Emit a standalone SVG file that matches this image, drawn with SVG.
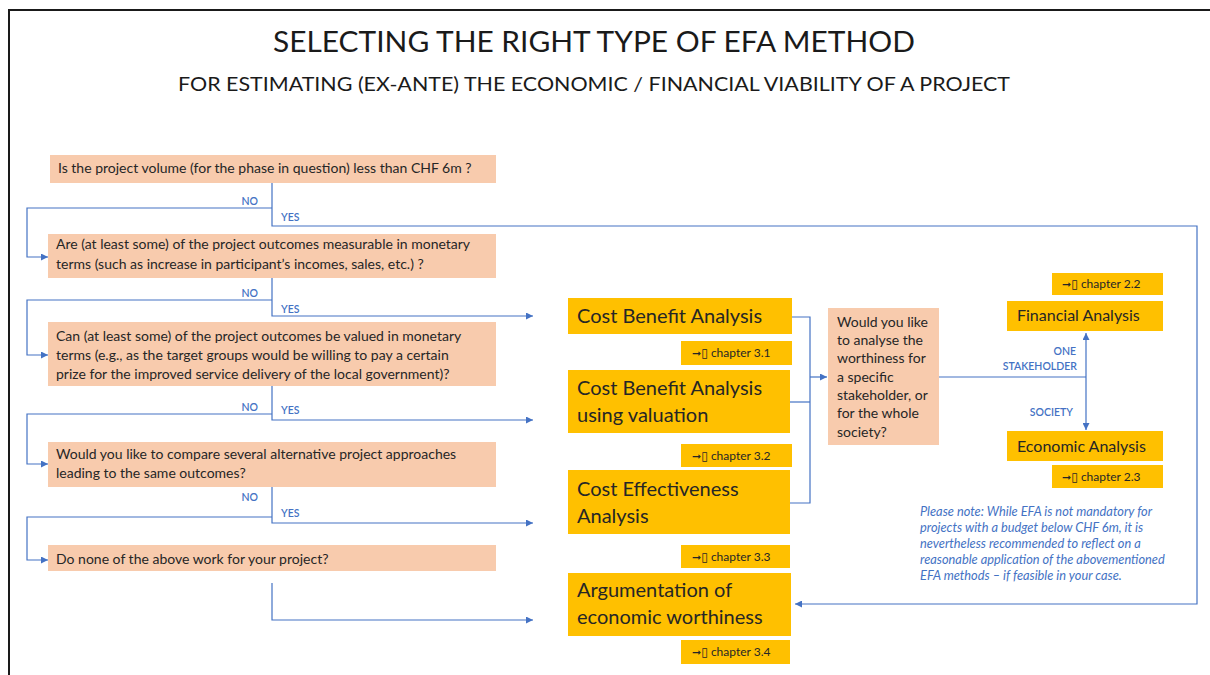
<svg xmlns="http://www.w3.org/2000/svg" width="1210" height="675" viewBox="0 0 1210 675">
  <style>
    .title { font-family: Lato, "Liberation Sans", sans-serif; fill: #1a1a1a; text-anchor: middle; }
    .q { fill: #F8CBAD; }
    .qt { font-family: Lato, "Liberation Sans", sans-serif; font-size: 14px; fill: #262626; }
    .m { fill: #FFC000; }
    .mt { font-family: Lato, "Liberation Sans", sans-serif; font-size: 20px; fill: #262626; }
    .st { font-family: Lato, "Liberation Sans", sans-serif; font-size: 16px; fill: #262626; }
    .ct { font-family: Lato, "DejaVu Sans", sans-serif; font-size: 12px; fill: #262626; }
    .ar { font-family: "DejaVu Sans", sans-serif; font-weight: bold; font-size: 11px; }
    .lbl { font-family: Lato, "Liberation Sans", sans-serif; font-size: 10.5px; fill: #4472C4; font-weight: 600; }
    .ln { fill: none; stroke: #4472C4; stroke-width: 1.2; }
    .note { font-family: Lato, "Liberation Sans", sans-serif; font-size: 12.8px; fill: #4472C4; font-style: italic; }
  </style>
  <defs>
    <marker id="arr" viewBox="0 0 8 8" refX="8" refY="4" markerWidth="7" markerHeight="7" markerUnits="userSpaceOnUse" orient="auto">
      <path d="M0,0 L8,4 L0,8 z" fill="#4472C4"/>
    </marker>
  </defs>

  <rect width="1210" height="675" fill="#ffffff"/>
  <!-- frame -->
  <path d="M9,675 V10 H1210" fill="none" stroke="#1a1a1a" stroke-width="2"/>

  <!-- headings -->
  <text class="title" x="594" y="52" font-size="29" textLength="642" lengthAdjust="spacingAndGlyphs">SELECTING THE RIGHT TYPE OF EFA METHOD</text>
  <text class="title" x="594" y="91" font-size="20" textLength="832" lengthAdjust="spacingAndGlyphs">FOR ESTIMATING (EX-ANTE) THE ECONOMIC / FINANCIAL VIABILITY OF A PROJECT</text>

  <!-- connectors -->
  <g id="connectors">
    <!-- Q1 -->
    <path class="ln" d="M272,183 V226 H1197 V604 H795" marker-end="url(#arr)"/>
    <path class="ln" d="M272,208 H27 V257 H48" marker-end="url(#arr)"/>
    <!-- Q2 -->
    <path class="ln" d="M272,278 V316 H533" marker-end="url(#arr)"/>
    <path class="ln" d="M272,300 H27 V355 H48" marker-end="url(#arr)"/>
    <!-- Q3 -->
    <path class="ln" d="M272,386 V420 H533" marker-end="url(#arr)"/>
    <path class="ln" d="M272,414 H27 V464 H48" marker-end="url(#arr)"/>
    <!-- Q4 -->
    <path class="ln" d="M272,487 V523 H533" marker-end="url(#arr)"/>
    <path class="ln" d="M272,517 H27 V560 H48" marker-end="url(#arr)"/>
    <!-- Q5 -->
    <path class="ln" d="M272,583 V620 H533" marker-end="url(#arr)"/>
    <!-- methods to stakeholder question -->
    <path class="ln" d="M792,317 H810 V503 H790"/>
    <path class="ln" d="M790,402 H810"/>
    <path class="ln" d="M810,377 H827" marker-end="url(#arr)"/>
    <!-- stakeholder / society split -->
    <path class="ln" d="M939,377 H1086"/>
    <path class="ln" d="M1086,377 V333" marker-end="url(#arr)"/>
    <path class="ln" d="M1086,377 V430" marker-end="url(#arr)"/>

    <text class="lbl" x="258" y="205" text-anchor="end">NO</text>
    <text class="lbl" x="281" y="221">YES</text>
    <text class="lbl" x="258" y="297" text-anchor="end">NO</text>
    <text class="lbl" x="281" y="313">YES</text>
    <text class="lbl" x="258" y="411" text-anchor="end">NO</text>
    <text class="lbl" x="281" y="414">YES</text>
    <text class="lbl" x="258" y="501" text-anchor="end">NO</text>
    <text class="lbl" x="281" y="517">YES</text>
    <text class="lbl" x="1076" y="355" text-anchor="end">ONE</text>
    <text class="lbl" x="1077" y="370" text-anchor="end">STAKEHOLDER</text>
    <text class="lbl" x="1073" y="416" text-anchor="end">SOCIETY</text>
  </g>

  <!-- decision questions -->
  <g id="q1">
    <rect class="q" x="50" y="155" width="446" height="28"/>
    <text class="qt" x="58" y="173">Is the project volume (for the phase in question) less than CHF 6m ?</text>
  </g>
  <g id="q2">
    <rect class="q" x="48" y="234" width="448" height="44"/>
    <text class="qt" x="56" y="249">Are (at least some) of the project outcomes measurable in monetary</text>
    <text class="qt" x="56" y="269">terms (such as increase in participant’s incomes, sales, etc.) ?</text>
  </g>
  <g id="q3">
    <rect class="q" x="48" y="322" width="448" height="64"/>
    <text class="qt" x="56" y="341">Can (at least some) of the project outcomes be valued in monetary</text>
    <text class="qt" x="56" y="360">terms (e.g., as the target groups would be willing to pay a certain</text>
    <text class="qt" x="56" y="379">prize for the improved service delivery of the local government)?</text>
  </g>
  <g id="q4">
    <rect class="q" x="48" y="442" width="448" height="45"/>
    <text class="qt" x="56" y="459">Would you like to compare several alternative project approaches</text>
    <text class="qt" x="56" y="478">leading to the same outcomes?</text>
  </g>
  <g id="q5">
    <rect class="q" x="48" y="545" width="448" height="26"/>
    <text class="qt" x="56" y="564">Do none of the above work for your project?</text>
  </g>

  <!-- methods -->
  <g id="cba">
    <rect class="m" x="568" y="298" width="224" height="36"/>
    <text class="mt" x="577" y="323">Cost Benefit Analysis</text>
  </g>
  <g id="ch31">
    <rect class="m" x="681" y="341" width="111" height="24"/>
    <text class="ct" x="692" y="357"><tspan class="ar">➞</tspan>▯ chapter 3.1</text>
  </g>
  <g id="cbav">
    <rect class="m" x="568" y="370" width="222" height="63"/>
    <text class="mt" x="577" y="395">Cost Benefit Analysis</text>
    <text class="mt" x="577" y="422">using valuation</text>
  </g>
  <g id="ch32">
    <rect class="m" x="681" y="444" width="111" height="23"/>
    <text class="ct" x="692" y="460"><tspan class="ar">➞</tspan>▯ chapter 3.2</text>
  </g>
  <g id="cea">
    <rect class="m" x="568" y="470" width="222" height="64"/>
    <text class="mt" x="577" y="496">Cost Effectiveness</text>
    <text class="mt" x="577" y="523">Analysis</text>
  </g>
  <g id="ch33">
    <rect class="m" x="681" y="545" width="109" height="23"/>
    <text class="ct" x="692" y="561"><tspan class="ar">➞</tspan>▯ chapter 3.3</text>
  </g>
  <g id="arg">
    <rect class="m" x="568" y="573" width="223" height="63"/>
    <text class="mt" x="577" y="597">Argumentation of</text>
    <text class="mt" x="577" y="624">economic worthiness</text>
  </g>
  <g id="ch34">
    <rect class="m" x="681" y="640" width="109" height="24"/>
    <text class="ct" x="692" y="656"><tspan class="ar">➞</tspan>▯ chapter 3.4</text>
  </g>

  <!-- stakeholder question -->
  <g id="q6">
    <rect class="q" x="828" y="308" width="111" height="137"/>
    <text class="qt" x="837" y="327">Would you like</text>
    <text class="qt" x="837" y="345">to analyse the</text>
    <text class="qt" x="837" y="363">worthiness for</text>
    <text class="qt" x="837" y="382">a specific</text>
    <text class="qt" x="837" y="400">stakeholder, or</text>
    <text class="qt" x="837" y="418">for the whole</text>
    <text class="qt" x="837" y="437">society?</text>
  </g>

  <g id="ch22">
    <rect class="m" x="1052" y="273" width="111" height="22"/>
    <text class="ct" x="1062" y="288"><tspan class="ar">➞</tspan>▯ chapter 2.2</text>
  </g>
  <g id="fin">
    <rect class="m" x="1007" y="301" width="156" height="30"/>
    <text class="st" x="1017" y="321">Financial Analysis</text>
  </g>
  <g id="eco">
    <rect class="m" x="1007" y="431" width="156" height="30"/>
    <text class="st" x="1017" y="452">Economic Analysis</text>
  </g>
  <g id="ch23">
    <rect class="m" x="1052" y="465" width="111" height="23"/>
    <text class="ct" x="1062" y="481"><tspan class="ar">➞</tspan>▯ chapter 2.3</text>
  </g>

  <g id="note">
    <text class="note" x="920" y="516">Please note: While EFA is not mandatory for</text>
    <text class="note" x="920" y="532">projects with a budget below CHF 6m, it is</text>
    <text class="note" x="920" y="548">nevertheless recommended to reflect on a</text>
    <text class="note" x="920" y="564">reasonable application of the abovementioned</text>
    <text class="note" x="920" y="580">EFA methods – if feasible in your case.</text>
  </g>
</svg>
